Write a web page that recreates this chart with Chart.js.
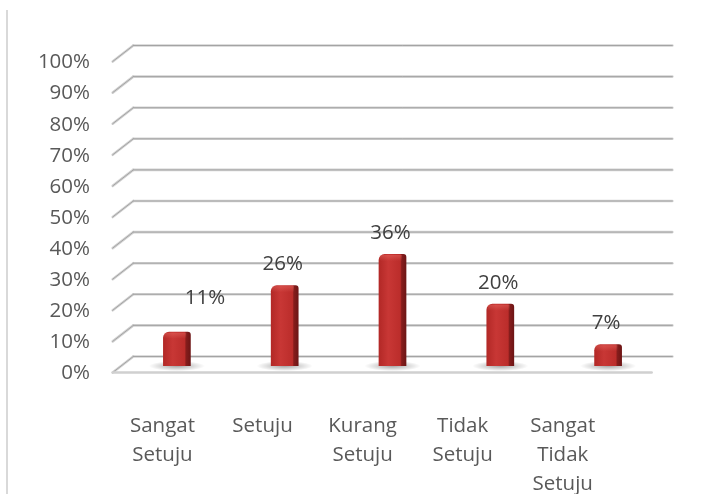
<!DOCTYPE html>
<html>
<head>
<meta charset="utf-8">
<title>Survey responses</title>
<script src="https://cdn.jsdelivr.net/npm/chart.js@4.4.1/dist/chart.umd.min.js"></script>
<style>
  html, body { margin: 0; padding: 0; background: #fff; }
  #wrap { width: 711px; height: 494px; }
</style>
</head>
<body>
<div id="wrap"><canvas id="survey_chart" width="711" height="494"></canvas></div>
<script>
// Answer categories (multi-line labels) and the share of answers for each
const categories = [
    ['Sangat', 'Setuju'],
    'Setuju',
    ['Kurang', 'Setuju'],
    ['Tidak', 'Setuju'],
    ['Sangat', 'Tidak', 'Setuju']
];
const percentages = [11, 26, 36, 20, 7];
const yMax = 100;
const yStep = 10;

// The 11% label sits off to the right of its column, the others right above
const labelNudge = [[30, -13], [0, 0], [0, 0], [0, 0], [0, 0]];

const textFont = { family: "'Open Sans', sans-serif", size: 20.5 };
const textColor = '#595959';

// fake 3D depth of the plot box
const depthX = 10.3;
const backDy = -9.5;
const frontDy = 6.5;

function columnFill(context) {
    const chart = context.chart;
    if (!chart.chartArea || context.type !== 'data') return '#bb2d2b';
    const xs = chart.scales.x;
    const cx = xs.getPixelForValue(context.dataIndex);
    const half = (xs.width / categories.length) * 0.257 / 2;
    const g = chart.ctx.createLinearGradient(cx - half, 0, cx + half, 0);
    g.addColorStop(0, '#b22826');
    g.addColorStop(0.35, '#c83735');
    g.addColorStop(0.78, '#bb2d2b');
    g.addColorStop(0.81, '#9c2321');
    g.addColorStop(0.83, '#861d1c');
    g.addColorStop(1, '#6c1515');
    return g;
}

function strokeLine(ctx, x1, y1, x2, y2) {
    ctx.beginPath();
    ctx.moveTo(x1, y1);
    ctx.lineTo(x2, y2);
    ctx.stroke();
}

// back wall gridlines, the slanted side wall stubs and the floor edge
const wallPlugin = {
    id: 'wall',
    beforeDatasetsDraw(chart) {
        const ctx = chart.ctx;
        const area = chart.chartArea;
        const ys = chart.scales.y;
        ctx.save();

        // outer frame edge on the left
        ctx.strokeStyle = '#d9d9d9';
        ctx.lineWidth = 2;
        strokeLine(ctx, 7, 10, 7, chart.height);

        ctx.lineCap = 'round';
        for (let v = 0; v <= yMax; v += yStep) {
            const py = ys.getPixelForValue(v);
            const back = py + backDy;
            const front = py + frontDy;
            [[2.6, '#d2d2d2'], [1, '#a4a4a4']].forEach(([w, c]) => {
                ctx.lineWidth = w;
                ctx.strokeStyle = c;
                strokeLine(ctx, area.left - depthX, front, area.left + depthX, back);
                strokeLine(ctx, area.left + depthX, back, area.right + depthX, back);
            });
        }

        // front edge of the floor
        const floor = ys.getPixelForValue(0) + frontDy;
        ctx.lineWidth = 2.4;
        ctx.strokeStyle = '#d0d0d0';
        strokeLine(ctx, area.left - depthX, floor, area.right - depthX, floor);

        // soft shadows at the column feet
        const meta = chart.getDatasetMeta(0);
        meta.data.forEach(bar => {
            ctx.save();
            ctx.translate(bar.x, bar.base);
            ctx.scale(1, 0.18);
            const g = ctx.createRadialGradient(0, 0, 0, 0, 0, 28);
            g.addColorStop(0, 'rgba(0,0,0,0.35)');
            g.addColorStop(1, 'rgba(0,0,0,0)');
            ctx.fillStyle = g;
            ctx.beginPath();
            ctx.arc(0, 0, 28, 0, Math.PI * 2);
            ctx.fill();
            ctx.restore();
        });
        ctx.restore();
    },
    afterDatasetsDraw(chart) {
        const ctx = chart.ctx;
        const meta = chart.getDatasetMeta(0);
        ctx.save();
        meta.data.forEach((bar, i) => {
            const half = bar.width / 2;
            // lighter top face of the column
            const cap = ctx.createLinearGradient(0, bar.y, 0, bar.y + 7);
            cap.addColorStop(0, 'rgba(255,140,130,0.35)');
            cap.addColorStop(1, 'rgba(255,140,130,0)');
            ctx.fillStyle = cap;
            ctx.fillRect(bar.x - half + 1, bar.y + 1, bar.width * 0.8, 6);

            // value label
            const [dx, dy] = labelNudge[i];
            ctx.font = `${textFont.size}px ${textFont.family}`;
            ctx.fillStyle = '#404040';
            ctx.textAlign = 'center';
            ctx.textBaseline = 'middle';
            ctx.fillText(percentages[i] + '%', bar.x - 2 + dx, bar.y - 21 + dy);
        });
        ctx.restore();
    }
};

const ctx = document.getElementById('survey_chart').getContext('2d');
new Chart(ctx, {
    type: 'bar',
    data: {
        labels: categories,
        datasets: [{
            data: percentages,
            backgroundColor: columnFill,
            borderRadius: { topLeft: 6, topRight: 3 },
            borderSkipped: 'bottom',
            barPercentage: 0.257,
            categoryPercentage: 1
        }]
    },
    options: {
        responsive: false,
        animation: false,
        devicePixelRatio: 1,
        layout: { padding: { left: 0, right: 49, top: 55, bottom: 0 } },
        plugins: {
            legend: { display: false },
            tooltip: { enabled: false }
        },
        scales: {
            x: { type: 'category', display: false },
            // label axis on the front edge of the floor, one tick per category
            x2: {
                type: 'linear',
                position: 'bottom',
                offset: false,
                min: -0.3946,
                max: 4.992,
                bounds: 'data',
                grid: { display: false, drawTicks: false, offset: false },
                border: { display: false },
                afterBuildTicks: scale => {
                    scale.ticks = categories.map((c, i) => ({ value: i }));
                },
                ticks: {
                    autoSkip: false,
                    maxRotation: 0,
                    padding: 46,
                    font: { ...textFont, lineHeight: 28.7 / 20.5 },
                    color: textColor,
                    callback: v => categories[v] ?? ''
                },
                afterFit: scale => { scale.height = 128; }
            },
            y: {
                min: 0,
                max: yMax,
                grid: { display: false, drawTicks: false },
                border: { display: false },
                ticks: {
                    stepSize: yStep,
                    padding: 33,
                    labelOffset: 7.5,
                    font: textFont,
                    color: textColor,
                    callback: v => v + '%'
                },
                afterFit: scale => { scale.width = 123; }
            }
        }
    },
    plugins: [wallPlugin]
});
</script>
</body>
</html>
